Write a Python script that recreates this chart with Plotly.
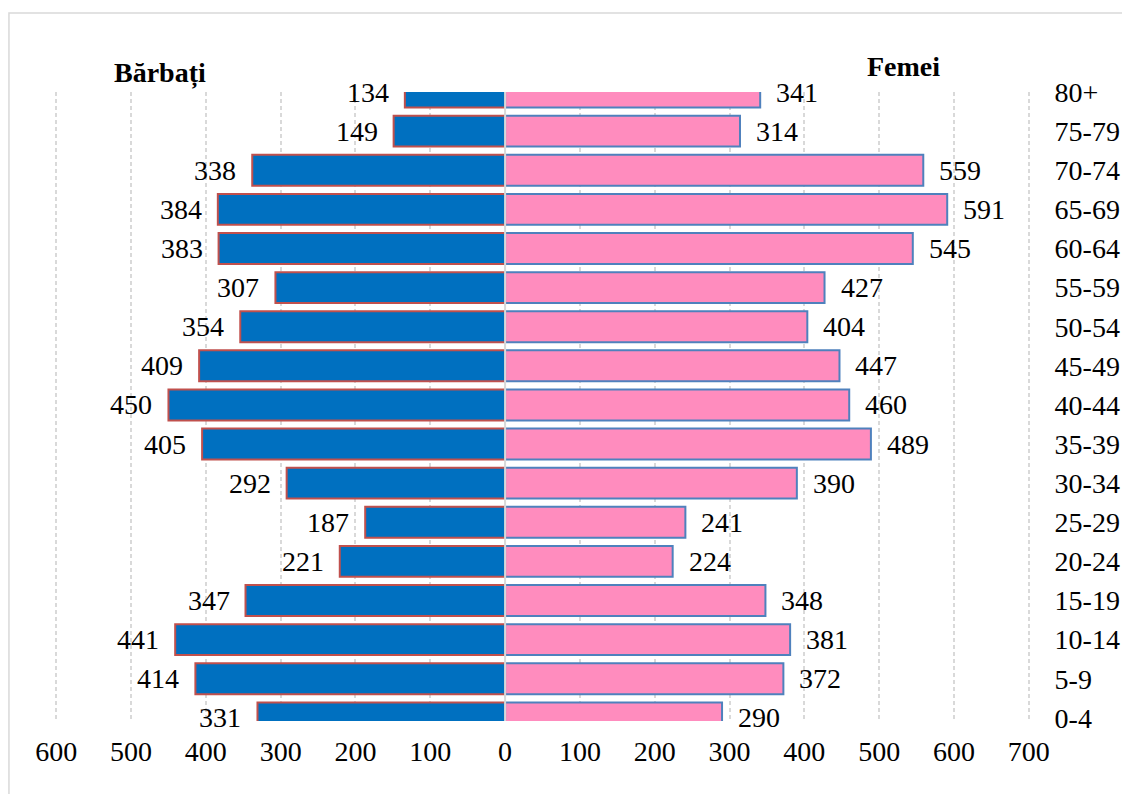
import plotly.graph_objects as go

ages = ["0-4", "5-9", "10-14", "15-19", "20-24", "25-29", "30-34", "35-39",
        "40-44", "45-49", "50-54", "55-59", "60-64", "65-69", "70-74", "75-79", "80+"]
barbati = [331, 414, 441, 347, 221, 187, 292, 405, 450, 409, 354, 307, 383, 384, 338, 149, 134]
femei = [290, 372, 381, 348, 224, 241, 390, 489, 460, 447, 404, 427, 545, 591, 559, 314, 341]
tick_vals = [-600, -500, -400, -300, -200, -100, 0, 100, 200, 300, 400, 500, 600, 700]
tick_text = [str(abs(v)) for v in tick_vals]

FONT = "Times New Roman, Liberation Serif, serif"
FS = 28

fig = go.Figure()
fig.add_trace(go.Bar(
    y=ages, x=[-v for v in barbati], orientation="h", name="Bărbați",
    marker=dict(color="#0070C0", line=dict(color="#C0504D", width=2)),
    width=0.79, hoverinfo="skip"))
fig.add_trace(go.Bar(
    y=ages, x=femei, orientation="h", name="Femei",
    marker=dict(color="#FF8CBE", line=dict(color="#4F81BD", width=2)),
    width=0.79, hoverinfo="skip"))

ann = []
for a, v in zip(ages, barbati):
    ann.append(dict(x=-v, y=a, xref="x", yref="y", text=str(v), showarrow=False,
                    xanchor="right", xshift=-14, font=dict(family=FONT, size=FS, color="black")))
for a, v in zip(ages, femei):
    ann.append(dict(x=v, y=a, xref="x", yref="y", text=str(v), showarrow=False,
                    xanchor="left", xshift=14, font=dict(family=FONT, size=FS, color="black")))
ann.append(dict(x=0.1085, y=1.030, xref="paper", yref="paper", text="<b>Bărbați</b>",
                showarrow=False, xanchor="center", yanchor="middle",
                font=dict(family=FONT, size=FS, color="black")))
ann.append(dict(x=0.869, y=1.0413, xref="paper", yref="paper", text="<b>Femei</b>",
                showarrow=False, xanchor="center", yanchor="middle",
                font=dict(family=FONT, size=FS, color="black")))

fig.update_layout(
    width=1122, height=794, autosize=False,
    margin=dict(l=54, r=91, t=92, b=73, autoexpand=False),
    paper_bgcolor="white", plot_bgcolor="white",
    barmode="overlay", showlegend=False,
    font=dict(family=FONT, size=FS, color="black"),
    annotations=ann,
    xaxis=dict(range=[-603, 703], tickvals=tick_vals, ticktext=tick_text,
               showgrid=True, gridcolor="#D9D9D9", gridwidth=1.5, griddash="4px,3px",
               zeroline=False, showline=False, automargin=False,
               ticks="outside", ticklen=5, tickcolor="rgba(0,0,0,0)",
               tickfont=dict(family=FONT, size=FS, color="black")),
    yaxis=dict(type="category", categoryorder="array", categoryarray=ages,
               range=[-0.08, 16.0], side="right", showgrid=False, zeroline=False,
               showline=False, automargin=False, ticks="outside", ticklen=17,
               tickcolor="rgba(0,0,0,0)",
               tickfont=dict(family=FONT, size=FS, color="black")),
    shapes=[
        dict(type="line", xref="x", yref="paper", x0=0, x1=0, y0=0, y1=1,
             line=dict(color="#D9D9D9", width=2), layer="above"),
        dict(type="rect", xref="paper", yref="paper", x0=-0.0461, x1=1.0972,
             y0=-0.118, y1=1.1256, line=dict(color="#D9D9D9", width=1.5),
             fillcolor="rgba(0,0,0,0)", layer="below"),
    ],
)

fig.write_html("out.html",
               config={"responsive": False, "displayModeBar": False},
               post_script="document.body.style.margin='0';document.body.style.overflow='hidden';")
